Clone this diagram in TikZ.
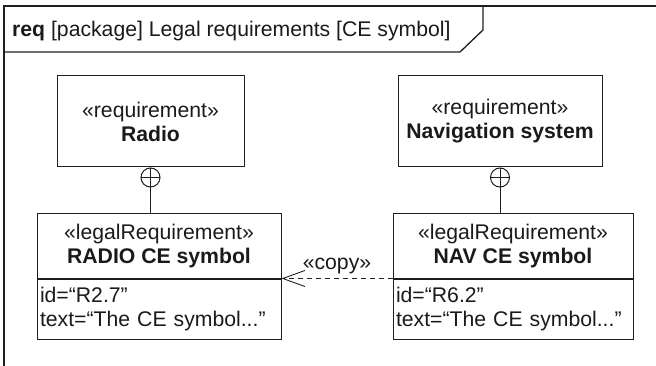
\documentclass[tikz,border=0pt]{standalone}
\usepackage{fontspec}
\setmainfont{Liberation Sans}
\usepackage{xcolor}
\usepackage{tikz}
\usetikzlibrary{arrows.meta, positioning, calc}
\definecolor{umlline}{HTML}{1E1E1E}
\definecolor{umltext}{HTML}{1A1A1A}
\tikzset{
frameline/.style={
draw=umlline,
line width=1.3pt
},
reqbox/.style={
draw=umlline,
line width=1pt,
minimum height=91pt,
align=center,
inner sep=0pt,
text=umltext,
font=\fontsize{21.2}{24}\selectfont
},
legalbox/.style={
draw=umlline,
line width=1pt,
minimum height=64pt,
align=center,
inner sep=0pt,
text=umltext,
font=\fontsize{21.2}{24}\selectfont
},
attrbox/.style={
draw=umlline,
line width=1pt,
minimum height=60pt,
inner xsep=3pt,
inner ysep=0pt,
align=left,
text=umltext,
font=\fontsize{21.2}{24}\selectfont
},
containment/.style={
circle,
draw=umlline,
fill=white,
line width=1pt,
inner sep=0pt,
minimum size=19pt,
path picture={
\draw[umlline, line width=1pt] (path picture bounding box.north) -- (path picture bounding box.south);
\draw[umlline, line width=1pt] (path picture bounding box.west) -- (path picture bounding box.east);
}
},
ownerline/.style={
draw=umlline,
line width=1pt
},
copyarrow/.style={
-{Straight Barb[length=22pt,width=16pt]},
dash pattern=on 5pt off 4pt,
line width=0.9pt,
draw=umlline
},
labelbox/.style={
text=umltext,
font=\fontsize{21.2}{24}\selectfont
}
}

\begin{document}
\begin{tikzpicture}[x=1pt, y=-1pt]
\useasboundingbox (0,0) rectangle (656,366);

% frame and name tab
\draw[frameline] (656,6) -- (4,6) -- (4,366);
\draw[frameline] (4,52) -- (460,52) -- (483,30) -- (483,6);
\node[labelbox, anchor=base west, inner sep=0pt] (title) at (12,37)
  {\textbf{req} [package] Legal requirements [CE symbol]};

% requirements
\node[reqbox, minimum width=187pt] (radio) at (150.5,121.5) {«requirement»\\\textbf{Radio}};
\node[reqbox, minimum width=204pt] (nav) at (500,121.5) {«requirement»\\\textbf{Navigation system}};

% legal requirements
\node[legalbox, minimum width=244pt] (radioce) at (159,246) {«legalRequirement»\\\textbf{RADIO CE symbol}};
\node[attrbox, text width=238pt, below=0pt of radioce] (radioattr) {id=“R2.7”\\text=“The CE symbol...”};

\node[legalbox, minimum width=240pt] (navce) at (513,246) {«legalRequirement»\\\textbf{NAV CE symbol}};
\node[attrbox, text width=234pt, below=0pt of navce] (navattr) {id=“R6.2”\\text=“The CE symbol...”};

% containment
\node[containment, anchor=north] (radioown) at (radio.south) {};
\node[containment, anchor=north] (navown) at (nav.south) {};
\draw[ownerline] (radioown.south) -- (radioown.south |- radioce.north);
\draw[ownerline] (navown.south) -- (navown.south |- navce.north);

% copy
\draw[copyarrow] (navce.south west) -- node[labelbox, above=1pt] (copylabel) {«copy»} (radioce.south east);

\end{tikzpicture}
\end{document}
